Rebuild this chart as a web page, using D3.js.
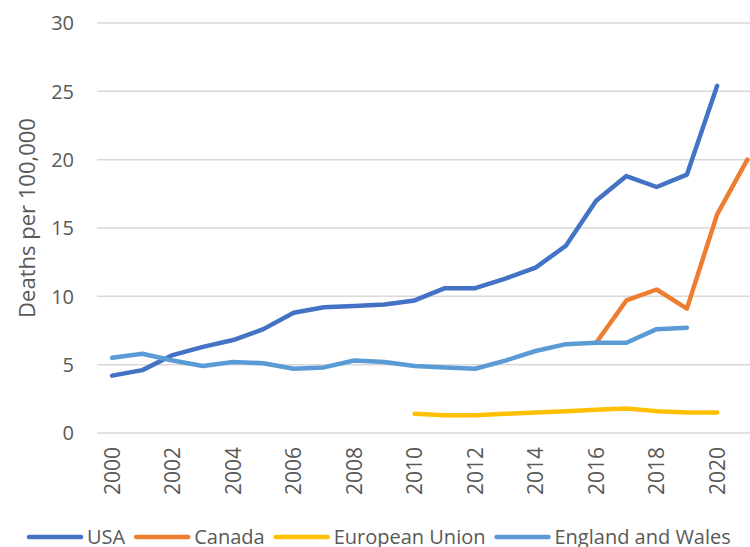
<!DOCTYPE html>
<html>
<head>
<meta charset="utf-8">
<script src="https://cdn.jsdelivr.net/npm/d3@7"></script>
<style>
  body { margin: 0; background: #fff; }
  text { font-family: "Open Sans", sans-serif; fill: #595959; }
</style>
</head>
<body>
<svg id="chart" width="750" height="547"></svg>
<script>
// years on the category axis
const years = d3.range(2000, 2022)
const yTicks = [0, 5, 10, 15, 20, 25, 30]

// deaths per 100,000 (null = no data)
const usa = [4.2, 4.6, 5.7, 6.3, 6.8, 7.6, 8.8, 9.2, 9.3, 9.4, 9.7, 10.6, 10.6, 11.3, 12.1, 13.7, 17.0, 18.8, 18.0, 18.9, 25.4, null]
const canada = [null, null, null, null, null, null, null, null, null, null, null, null, null, null, null, null, 6.6, 9.7, 10.5, 9.1, 16.0, 20.0]
const eu = [null, null, null, null, null, null, null, null, null, null, 1.4, 1.3, 1.3, 1.4, 1.5, 1.6, 1.7, 1.8, 1.6, 1.5, 1.5, null]
const englandWales = [5.5, 5.8, 5.3, 4.9, 5.2, 5.1, 4.7, 4.8, 5.3, 5.2, 4.9, 4.8, 4.7, 5.3, 6.0, 6.5, 6.6, 6.6, 7.6, 7.7, null, null]

const series = [
  { name: 'USA', values: usa, color: '#4472C4' },
  { name: 'Canada', values: canada, color: '#ED7D31' },
  { name: 'European Union', values: eu, color: '#FFC000' },
  { name: 'England and Wales', values: englandWales, color: '#5B9BD5' }
]

const svg = d3.select('#chart')

const x = d3.scaleBand()
  .domain(years)
  .range([97, 97 + 22 * 30.25])

const y = d3.scaleLinear()
  .domain([0, 30])
  .range([433, 23])

const xc = (yr) => x(yr) + x.bandwidth() / 2

// gridlines
svg.append('g')
  .selectAll('line')
  .data(yTicks)
  .enter()
  .append('line')
  .attr('x1', 97)
  .attr('x2', 750)
  .attr('y1', (d) => y(d))
  .attr('y2', (d) => y(d))
  .attr('stroke', '#d9d9d9')
  .attr('stroke-width', 1.5)

// y tick labels
svg.append('g')
  .selectAll('text')
  .data(yTicks)
  .enter()
  .append('text')
  .attr('x', 74)
  .attr('y', (d) => y(d))
  .attr('dy', '0.36em')
  .attr('text-anchor', 'end')
  .style('font-size', '20px')
  .text((d) => d)

// x tick labels, every other year
svg.append('g')
  .selectAll('text')
  .data(years.filter((yr) => yr % 2 === 0))
  .enter()
  .append('text')
  .attr('transform', (yr) => `translate(${xc(yr)},447) rotate(-90)`)
  .attr('dy', '0.36em')
  .attr('text-anchor', 'end')
  .style('font-size', '21px')
  .text((yr) => yr)

// y axis title
svg.append('text')
  .attr('transform', 'translate(27,218) rotate(-90)')
  .attr('dy', '0.36em')
  .attr('text-anchor', 'middle')
  .style('font-size', '22px')
  .text('Deaths per 100,000')

// lines
const line = d3.line()
  .defined((d) => d != null)
  .x((d, i) => xc(years[i]))
  .y((d) => y(d))

svg.append('g')
  .selectAll('path')
  .data(series)
  .enter()
  .append('path')
  .attr('d', (s) => line(s.values))
  .attr('fill', 'none')
  .attr('stroke', (s) => s.color)
  .attr('stroke-width', 4.5)
  .attr('stroke-linecap', 'round')
  .attr('stroke-linejoin', 'round')

// legend along the bottom
const legend = svg.append('g')
let lx = 27
for (let s of series) {
  legend.append('line')
    .attr('x1', lx + 2)
    .attr('x2', lx + 54)
    .attr('y1', 537)
    .attr('y2', 537)
    .attr('stroke', s.color)
    .attr('stroke-width', 4.5)
    .attr('stroke-linecap', 'round')
  const t = legend.append('text')
    .attr('x', lx + 60)
    .attr('y', 544)
    .style('font-size', '20px')
    .text(s.name)
  lx = lx + 60 + t.node().getComputedTextLength() + 9
}
</script>
</body>
</html>
